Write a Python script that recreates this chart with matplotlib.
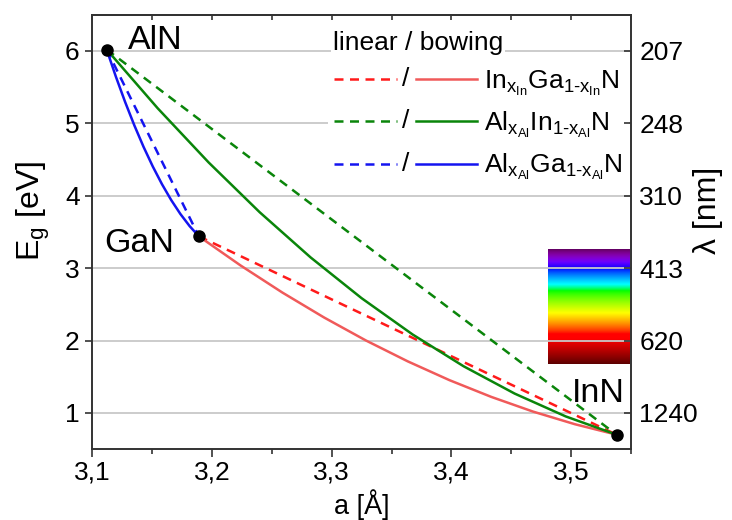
import matplotlib
matplotlib.use('Agg')
import matplotlib.pyplot as plt
import numpy as np
from matplotlib.legend_handler import HandlerBase
from matplotlib.lines import Line2D
from matplotlib.text import Text
from matplotlib.ticker import MultipleLocator, FuncFormatter

plt.rcParams['font.family'] = ['Liberation Sans', 'DejaVu Sans']
plt.rcParams['mathtext.fontset'] = 'custom'
plt.rcParams['mathtext.rm'] = 'Liberation Sans'
plt.rcParams['mathtext.it'] = 'Liberation Sans:italic'
plt.rcParams['mathtext.bf'] = 'Liberation Sans:bold'

# ---------------- data ----------------
binaries = ['AlN', 'GaN', 'InN']
a_bin = [3.112, 3.189, 3.538]      # lattice constant [Å]
Eg_bin = [6.02, 3.44, 0.70]        # band gap [eV]

# bowing curves
ingan_a = [3.1890, 3.2239, 3.2588, 3.2937, 3.3286, 3.3635, 3.3984, 3.4333, 3.4682, 3.5031, 3.5380]
ingan_E = [3.440, 3.037, 2.663, 2.318, 2.001, 1.713, 1.453, 1.222, 1.019, 0.845, 0.700]

alinn_a = [3.5380, 3.4954, 3.4528, 3.4102, 3.3676, 3.3250, 3.2824, 3.2398, 3.1972, 3.1546, 3.1120]
alinn_E = [0.700, 0.953, 1.268, 1.645, 2.084, 2.585, 3.148, 3.773, 4.460, 5.209, 6.020]

algan_a = [3.1890, 3.1813, 3.1736, 3.1659, 3.1582, 3.1505, 3.1428, 3.1351, 3.1274, 3.1197, 3.1120]
algan_E = [3.440, 3.581, 3.748, 3.941, 4.160, 4.405, 4.676, 4.973, 5.296, 5.645, 6.020]

x_ticks = [3.1, 3.2, 3.3, 3.4, 3.5]
E_ticks = [1, 2, 3, 4, 5, 6]
lam_labels = ['1240', '620', '413', '310', '248', '207']
spectrum_nm = [380, 740]

legend_labels = ['In$_{\\mathrm{x_{In}}}$Ga$_{\\mathrm{1\u2010x_{In}}}$N',
                 'Al$_{\\mathrm{x_{Al}}}$In$_{\\mathrm{1\u2010x_{Al}}}$N',
                 'Al$_{\\mathrm{x_{Al}}}$Ga$_{\\mathrm{1\u2010x_{Al}}}$N']

# --------------- helpers ---------------
def wl_to_rgb(w):
    if w < 440:
        r, g, b = -(w - 440) / 60.0, 0.0, 1.0
    elif w < 490:
        r, g, b = 0.0, (w - 440) / 50.0, 1.0
    elif w < 510:
        r, g, b = 0.0, 1.0, -(w - 510) / 20.0
    elif w < 580:
        r, g, b = (w - 510) / 70.0, 1.0, 0.0
    elif w < 645:
        r, g, b = 1.0, -(w - 645) / 65.0, 0.0
    else:
        r, g, b = 1.0, 0.0, 0.0
    if w < 420:
        f = 0.3 + 0.7 * (w - 380) / 40.0
    elif w <= 660:
        f = 1.0
    else:
        f = 1.0 - 0.72 * (w - 660) / 80.0
    return [(c * f) ** 0.8 for c in (r, g, b)]


class PairHandler(HandlerBase):
    def create_artists(self, legend, orig_handle, xdescent, ydescent,
                       width, height, fontsize, trans):
        dash, solid = orig_handle
        y = height / 2.0 - ydescent
        x0 = -xdescent
        l1 = Line2D([x0, x0 + 0.44 * width], [y, y])
        l1.update_from(dash)
        l1.set_transform(trans)
        t = Text(x0 + 0.505 * width, y, '/', ha='center', va='center',
                 fontsize=fontsize, transform=trans)
        l2 = Line2D([x0 + 0.575 * width, x0 + width], [y, y])
        l2.update_from(solid)
        l2.set_transform(trans)
        return [l1, t, l2]


# --------------- figure ---------------
fig = plt.figure(figsize=(7.32, 5.2), dpi=100)
ax = fig.add_axes([0.1261, 0.1362, 0.7359, 0.8354])

spine_c = '#333333'
lw = 1.8
red_d, red_s = '#ff1a1a', '#f05a5a'
green = '#0a850a'
blue = '#1414f0'
dash = (3.6, 2.6)

# spectrum inset
lam = np.linspace(spectrum_nm[0], spectrum_nm[1], 300)
img = np.array([[wl_to_rgb(w)] for w in lam])
ax.imshow(img, extent=[3.4807, 3.5485, 1240 / spectrum_nm[1], 1240 / spectrum_nm[0]],
          aspect='auto', origin='upper', zorder=0.5, interpolation='bilinear')

rd, = ax.plot([a_bin[1], a_bin[2]], [Eg_bin[1], Eg_bin[2]], color=red_d, lw=lw,
              ls=(0, dash), zorder=2)
rs, = ax.plot(ingan_a, ingan_E, color=red_s, lw=lw, zorder=2, solid_joinstyle='round')
gd, = ax.plot([a_bin[0], a_bin[2]], [Eg_bin[0], Eg_bin[2]], color=green, lw=lw,
              ls=(0, dash), zorder=2)
gs, = ax.plot(alinn_a, alinn_E, color=green, lw=lw, zorder=2, solid_joinstyle='round')
bd, = ax.plot([a_bin[0], a_bin[1]], [Eg_bin[0], Eg_bin[1]], color=blue, lw=lw,
              ls=(0, dash), zorder=2)
bs, = ax.plot(algan_a, algan_E, color=blue, lw=lw, zorder=2, solid_joinstyle='round')

ax.plot(a_bin, Eg_bin, 'o', color='black', ms=8, zorder=4, clip_on=False)

ax.text(3.130, 6.03, binaries[0], fontsize=24.5, ha='left', va='baseline')
ax.text(3.110, 3.22, binaries[1], fontsize=24.5, ha='left', va='baseline')
ax.text(3.5007, 1.15, binaries[2], fontsize=24.5, ha='left', va='baseline')

ax.set_xlim(3.1, 3.55)
ax.set_ylim(0.5, 6.5)

ax.set_xticks(x_ticks)
ax.xaxis.set_minor_locator(MultipleLocator(0.05))
ax.xaxis.set_major_formatter(FuncFormatter(lambda v, p: f'{v:.1f}'.replace('.', ',')))
ax.set_yticks(E_ticks)
ax.tick_params(axis='x', which='major', direction='out', length=5.5, width=1.2,
               labelsize=19, pad=3, color=spine_c, top=False)
ax.tick_params(axis='x', which='minor', direction='out', length=3.6, width=1.2,
               color=spine_c, top=False)
ax.tick_params(axis='y', which='major', direction='out', length=5.2, width=1.2,
               labelsize=19, pad=4, color=spine_c, right=False)
ax.yaxis.grid(True, color='#c8c8c8', lw=1.3)

sec = ax.secondary_xaxis('top')
sec.xaxis.set_major_locator(MultipleLocator(0.05))
sec.tick_params(axis='x', direction='in', length=3.6, width=1.2, labeltop=False,
                color=spine_c)

ax2 = ax.twinx()
ax2.set_ylim(ax.get_ylim())
ax2.set_yticks(E_ticks)
ax2.set_yticklabels(lam_labels)
ax2.tick_params(axis='y', direction='in', length=5, width=1.2, labelsize=19, pad=6,
                color=spine_c)

for a in (ax, ax2):
    for s in a.spines.values():
        s.set_color(spine_c)
        s.set_linewidth(1.2)
for s in sec.spines.values():
    s.set_color(spine_c)
    s.set_linewidth(1.2)

ax.set_xlabel('a [Å]', fontsize=19.5)
ax.xaxis.set_label_coords(0.5, -0.0925)
ax.set_ylabel(r'E$_\mathrm{g}$ [eV]', fontsize=23)
ax.yaxis.set_label_coords(-0.074, 0.548)
ax2.set_ylabel('λ [nm]', fontsize=23)
ax2.yaxis.set_label_coords(1.115, 0.55)

leg = ax.legend(handles=[(rd, rs), (gd, gs), (bd, bs)], labels=legend_labels,
                handler_map={tuple: PairHandler()}, loc='upper left',
                bbox_to_anchor=(0.4368, 0.891), borderaxespad=0, borderpad=0.25,
                handlelength=5.4, handletextpad=0.26, labelspacing=0.45,
                fontsize=19, frameon=True, facecolor='white', edgecolor='none',
                framealpha=1, fancybox=False)
leg.set_zorder(6)

ax.text(0.447, 0.919, 'linear / bowing', transform=ax.transAxes, fontsize=19,
        va='baseline', ha='left', zorder=7,
        bbox=dict(facecolor='white', edgecolor='none', pad=1.5))

fig.savefig('out.png', dpi=100)
